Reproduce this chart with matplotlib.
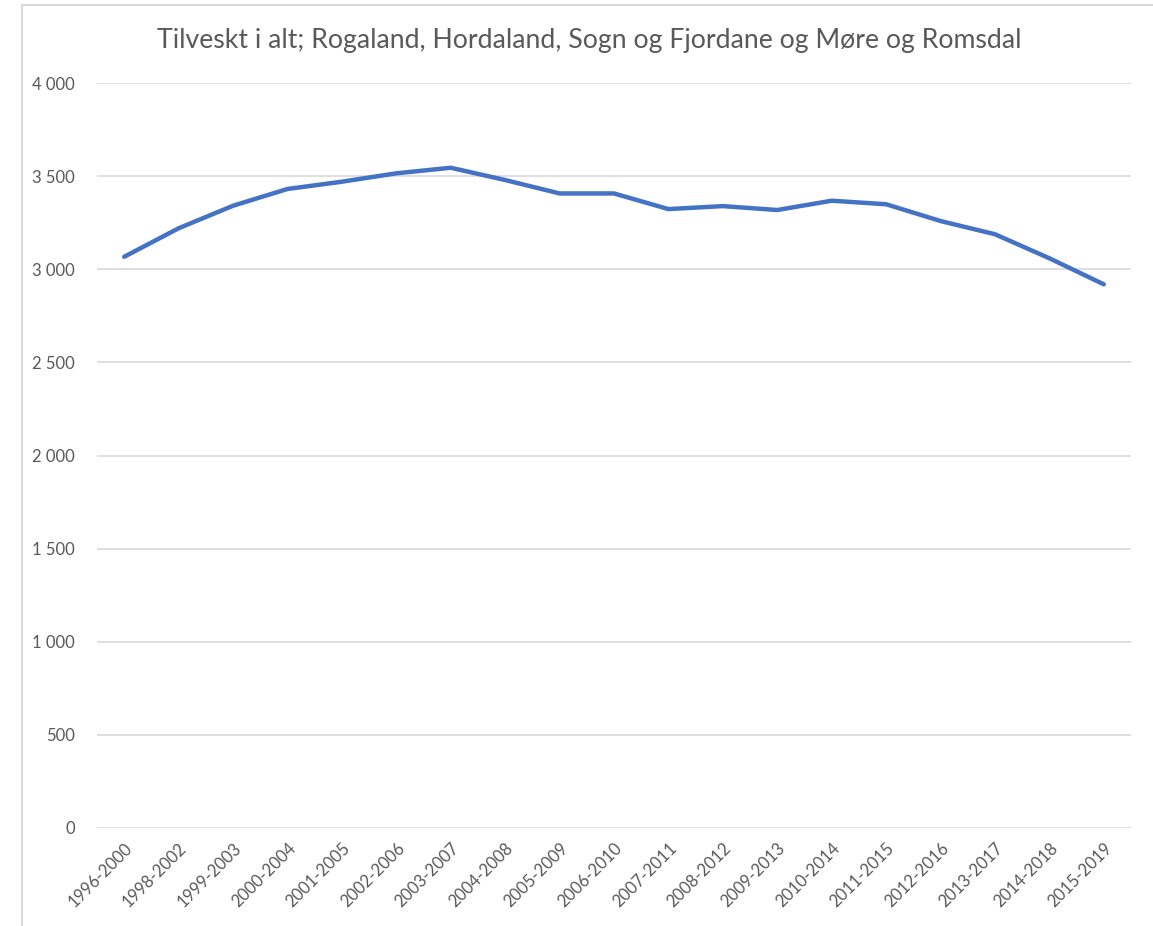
import matplotlib
matplotlib.use("Agg")
import matplotlib.pyplot as plt
from matplotlib.lines import Line2D
from matplotlib.ticker import FuncFormatter, MultipleLocator

categories = ["1996-2000", "1998-2002", "1999-2003", "2000-2004", "2001-2005",
              "2002-2006", "2003-2007", "2004-2008", "2005-2009", "2006-2010",
              "2007-2011", "2008-2012", "2009-2013", "2010-2014", "2011-2015",
              "2012-2016", "2013-2017", "2014-2018", "2015-2019"]
values = [3067, 3220, 3341, 3431, 3470, 3515, 3545, 3479, 3407, 3407,
          3323, 3339, 3318, 3368, 3349, 3259, 3188, 3059, 2919]
title = "Tilveskt i alt; Rogaland, Hordaland, Sogn og Fjordane og Møre og Romsdal"

plt.rcParams['font.family'] = ['Lato', 'DejaVu Sans']
W, H = 1153, 926
fig = plt.figure(figsize=(W / 100, H / 100), dpi=100)
ax = fig.add_axes([97 / W, 1 - 828 / H, (1131 - 97) / W, (828 - 83) / H])

x = list(range(len(categories)))
ax.plot(x, values, color="#4472C4", lw=3.2, solid_capstyle="round", solid_joinstyle="round", zorder=3)

ax.set_ylim(0, 4000)
ax.set_xlim(-0.5, len(categories) - 0.5)
ax.yaxis.set_major_locator(MultipleLocator(500))
ax.yaxis.set_major_formatter(FuncFormatter(lambda v, p: f"{int(v):,}".replace(",", " ")))
ax.grid(axis="y", color="#D9D9D9", lw=1.2)
ax.set_axisbelow(True)
for s in ax.spines.values():
    s.set_visible(False)
ax.set_xticks(x)
ax.set_xticklabels(categories, rotation=45, ha="right", rotation_mode="anchor")
ax.tick_params(axis="both", length=0, colors="#595959", labelsize=12)
ax.tick_params(axis="y", pad=16)
ax.tick_params(axis="x", pad=9)

fig.text(589 / W, 1 - 48 / H, title, ha="center", va="baseline", fontsize=19.2, color="#595959")

# chart frame (left and top edges visible)
fig.add_artist(Line2D([22 / W, 22 / W], [0, 1 - 5 / H], transform=fig.transFigure, color="#D9D9D9", lw=1.5))
fig.add_artist(Line2D([22 / W, 1], [1 - 5 / H, 1 - 5 / H], transform=fig.transFigure, color="#D9D9D9", lw=1.5))

fig.savefig("out.png", dpi=100, facecolor="white")
